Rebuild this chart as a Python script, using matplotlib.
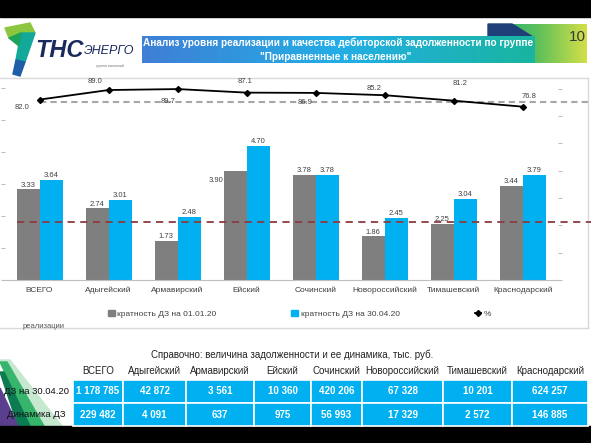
import numpy as np
import matplotlib
matplotlib.use('Agg')
import matplotlib.pyplot as plt
from matplotlib.patches import Polygon, Rectangle, Patch
from matplotlib.lines import Line2D
from matplotlib.colors import LinearSegmentedColormap

# Данные графика
categories = ['ВСЕГО', 'Адыгейский', 'Армавирский', 'Ейский', 'Сочинский',
              'Новороссийский', 'Тимашевский', 'Краснодарский']
krat_0101 = [3.33, 2.74, 1.73, 3.90, 3.78, 1.86, 2.25, 3.44]
krat_3004 = [3.64, 3.01, 2.48, 4.70, 3.78, 2.45, 3.04, 3.79]
pct = [82.0, 89.0, 89.7, 87.1, 86.9, 85.2, 81.2, 76.8]
avg_krat = 2.3
avg_pct = 80.0
legend_labels = ['кратность ДЗ на 01.01.20', 'кратность ДЗ на 30.04.20', '%']

# Данные таблицы
row_labels = ['ДЗ на 30.04.20', 'Динамика ДЗ']
dz_3004 = ['1 178 785', '42 872', '3 561', '10 360', '420 206', '67 328', '10 201', '624 257']
dz_dyn = ['229 482', '4 091', '637', '975', '56 993', '17 329', '2 572', '146 885']

W, H = 591, 443
plt.rcParams['font.family'] = ['Liberation Sans', 'DejaVu Sans']

fig = plt.figure(figsize=(W / 100, H / 100), dpi=100)
fig.patch.set_facecolor('white')


def fr(x0, y0, x1, y1):
    # пиксели -> доли фигуры
    return [x0 / W, 1 - y1 / H, (x1 - x0) / W, (y1 - y0) / H]


# Фоновые элементы слайда
bg = fig.add_axes([0, 0, 1, 1])
bg.set_xlim(0, W)
bg.set_ylim(H, 0)
bg.axis('off')

bg.add_patch(Rectangle((0, 0), W, 17, color='black', zorder=5))
bg.add_patch(Rectangle((0, 426), W, 17, color='black', zorder=5))

# рамка диаграммы
bg.plot([0, 588], [78, 78], color='#d9d9d9', lw=1)
bg.plot([588, 588], [78, 328], color='#d9d9d9', lw=1)
bg.plot([0, 588], [328, 328], color='#d9d9d9', lw=1)

# логотип
bg.add_patch(Polygon([(5, 28), (30, 23), (35, 33), (9, 38)], color='#8cc63f'))
bg.add_patch(Polygon([(21, 33), (35, 33), (25, 62), (16, 60)], color='#12a89a'))
bg.add_patch(Polygon([(16, 60), (25, 62), (20, 76), (13, 74)], color='#1f5fa8'))
bg.add_patch(Polygon([(9, 38), (21, 33), (19, 46)], color='#1ca45b'))
bg.text(35, 50, 'ТНС', fontsize=17, fontweight='bold', fontstyle='italic',
        color='#1b2a5e', va='center', ha='left')
bg.text(84, 51, 'ЭНЕРГО', fontsize=9, fontstyle='italic',
        color='#1b2a5e', va='center', ha='left')
bg.text(110, 66, 'группа компаний', fontsize=2.5, color='#777777', ha='center', va='center')

# зелёный блок с номером
green = LinearSegmentedColormap.from_list('g', ['#1aa87a', '#5cc05a', '#d2df48'])
bg.imshow(np.linspace(0, 1, 100).reshape(1, -1), cmap=green, aspect='auto',
          extent=(488, 587, 63, 24), zorder=1)
bg.add_patch(Polygon([(488, 24), (512, 24), (533, 37), (488, 37)], color='#1f3f78', zorder=2))
bg.text(577, 37, '10', fontsize=11, color='#3a3a3a', ha='center', va='center', zorder=3)

# синий баннер заголовка
blue = LinearSegmentedColormap.from_list('b', ['#3f7fd6', '#23aee6', '#19b5a0'])
bg.imshow(np.linspace(0, 1, 100).reshape(1, -1), cmap=blue, aspect='auto',
          extent=(142, 535, 63, 36), zorder=3)
bg.text(338, 43, 'Анализ уровня реализации и качества дебиторской задолженности по группе',
        fontsize=7.2, fontweight='bold', color='white', ha='center', va='center', zorder=4)
bg.text(336, 57, '"Приравненные к населению"', fontsize=7.2, fontweight='bold',
        color='white', ha='center', va='center', zorder=4)

# декоративные полосы внизу слева
bg.add_patch(Polygon([(0, 360), (10, 360), (62, 426), (44, 426)], color='#c6e8cf'))
bg.add_patch(Polygon([(0, 362), (7, 362), (44, 426), (30, 426)], color='#37b56d'))
bg.add_patch(Polygon([(0, 372), (4, 372), (30, 426), (18, 426)], color='#0c7a52'))
bg.add_patch(Polygon([(0, 388), (18, 426), (0, 426)], color='#5a3f8e'))
bg.text(23, 326, 'реализации', fontsize=5.5, color='#595959', ha='left', va='center')

bg.text(292, 355, 'Справочно: величина задолженности и ее динамика, тыс. руб.',
        fontsize=7, color='#222222', ha='center', va='center')

# Основная диаграмма
ax = fig.add_axes(fr(5, 75, 557.5, 280))
ax.patch.set_alpha(0)
x = np.arange(len(categories))
bw = 1 / 3
ax.bar(x - bw / 2, krat_0101, width=bw, color='#7f7f7f', zorder=2)
ax.bar(x + bw / 2, krat_3004, width=bw, color='#00b0f0', zorder=2)
ax.set_xlim(-0.5, 7.5)
ax.set_ylim(0.5, 6.906)

for i in range(len(categories)):
    if i == 3:
        ax.text(x[i] - bw, krat_0101[i] - 0.3, f'{krat_0101[i]:.2f}', ha='right',
                va='center', fontsize=5.5, color='#404040', zorder=4)
    else:
        ax.text(x[i] - bw / 2, krat_0101[i] + 0.02, f'{krat_0101[i]:.2f}', ha='center',
                va='bottom', fontsize=5.5, color='#404040', zorder=4)
    ax.text(x[i] + bw / 2, krat_3004[i] + 0.02, f'{krat_3004[i]:.2f}', ha='center',
            va='bottom', fontsize=5.5, color='#404040', zorder=4)

# красная пунктирная линия средней кратности
ax.plot([-0.326, 7.978], [avg_krat, avg_krat], color='#8e3b3f', lw=1.3,
        dashes=(4, 3), clip_on=False, zorder=3)

ax.set_xticks(x)
ax.set_xticklabels(categories, fontsize=6, color='#404040')
ax.set_yticks(np.arange(0.5, 7, 1))
ax.set_yticklabels([])
ax.tick_params(axis='x', length=0, pad=5)
ax.tick_params(axis='y', length=3, color='#bfbfbf')
for s in ['top', 'right', 'left']:
    ax.spines[s].set_visible(False)
ax.spines['bottom'].set_color('#bfbfbf')

# Вторая ось - проценты
ax2 = ax.twinx()
ax2.set_ylim(-50, 100)
ax2.plot([0.007, 7.978], [avg_pct, avg_pct], color='#a6a6a6', lw=1.5,
         dashes=(3, 2), clip_on=False, zorder=2)
ax2.plot(x, pct, color='black', lw=1.3, marker='D', markersize=3, zorder=3)
offsets = [(-18, 8), (-14, -9), (-10, 12), (-2, -11), (-11, 10), (-11, -7), (6, -17), (6, -10)]
for i, v in enumerate(pct):
    dx, dy = offsets[i]
    ax2.annotate(f'{v:.1f}', (x[i], v), xytext=(dx / 1.389, -dy / 1.389),
                 textcoords='offset points', ha='center', va='center',
                 fontsize=5.5, color='#404040')
ax2.set_yticks(np.arange(-50, 100, 20))
ax2.set_yticklabels([])
ax2.tick_params(axis='y', length=3, color='#bfbfbf')
for s in ['top', 'right', 'left', 'bottom']:
    ax2.spines[s].set_visible(False)

# Легенда
handles = [Patch(color='#7f7f7f'), Patch(color='#00b0f0'),
           Line2D([], [], color='black', lw=1.3, marker='D', markersize=3)]
fig.legend(handles, legend_labels, loc='center left', ncol=3,
           bbox_to_anchor=(108 / W, 1 - 314 / H), frameon=False, fontsize=6,
           handlelength=0.8, handleheight=0.8, handletextpad=0.3,
           columnspacing=9.0, borderpad=0, borderaxespad=0,
           labelcolor='#404040')

# Таблица
ax_t = fig.add_axes(fr(0, 362, 588, 426))
ax_t.axis('off')
cell_text = [[row_labels[0]] + dz_3004, [row_labels[1]] + dz_dyn]
col_w = np.array([73, 50, 63, 68, 57, 51, 81, 69, 76], dtype=float)
tbl = ax_t.table(cellText=cell_text, colLabels=[''] + categories,
                 colWidths=list(col_w / col_w.sum()), bbox=[0, 0, 1, 1],
                 cellLoc='center')
tbl.auto_set_font_size(False)
for (r, c), cell in tbl.get_celld().items():
    txt = cell.get_text()
    if r == 0:
        cell.set_height(18)
        cell.set_facecolor('none')
        cell.set_linewidth(0)
        txt.set_fontsize(7)
        txt.set_color('#222222')
    else:
        cell.set_height(23)
        if c == 0:
            cell.set_facecolor('none')
            cell.set_linewidth(0)
            cell._loc = 'right'
            cell.PAD = 0.12
            txt.set_fontsize(6.8)
            txt.set_color('#111111')
        else:
            cell.set_facecolor('#00b0f0')
            cell.set_edgecolor('white')
            cell.set_linewidth(1.2)
            txt.set_fontsize(7)
            txt.set_color('white')
            txt.set_fontweight('bold')

fig.savefig('out.png', dpi=100)
